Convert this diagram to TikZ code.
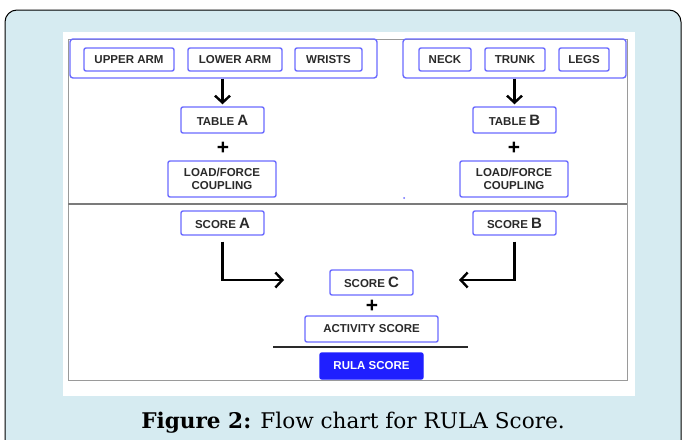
\documentclass[tikz,border=0pt]{standalone}
\usepackage{fontspec}
\setmainfont{DejaVu Serif}
\setsansfont{Liberation Sans}
\usepackage{tikz}
\usetikzlibrary{arrows.meta, positioning, calc}
\definecolor{rulabg}{HTML}{D6EBF1}
\definecolor{rulablue}{HTML}{6B6BFF}
\definecolor{rulafill}{HTML}{1F1FFF}
\definecolor{rulatext}{HTML}{2A2A2A}
\definecolor{rulagray}{HTML}{9A9A9A}

\begin{document}
\begin{tikzpicture}[x=1pt, y=-1pt,
  part/.style={rectangle, rounded corners=2pt, draw=rulablue, line width=1.4pt,
               fill=white, inner sep=0pt, minimum height=23pt,
               font=\sffamily\bfseries\fontsize{11.5}{12.5}\selectfont, text=rulatext},
  grp/.style={rectangle, rounded corners=3pt, draw=rulablue, line width=1.4pt,
              inner sep=0pt, minimum height=39pt},
  plus/.style={font=\sffamily\bfseries\fontsize{21}{21}\selectfont, inner sep=0pt},
  arr/.style={-{Straight Barb[length=7pt, width=15pt, line width=2.4pt]}, line width=2.4pt}]
  \useasboundingbox (0,0) rectangle (684,439);
  % background and white panel
  \draw[fill=rulabg, line width=1pt, rounded corners=12pt] (5,10) rectangle (681,470);
  \fill[white] (63,32) rectangle (635,396);
  \draw[rulagray, line width=1pt] (68,39) rectangle (627,380);
  \draw[rulagray!80!black, line width=1.4pt] (68,204) -- (627,204);
  % body part groups
  \node[grp, minimum width=307pt] (grpA) at (223.5,58.5) {};
  \node[part, minimum width=90pt] (upper) at (129,59.5) {UPPER ARM};
  \node[part, minimum width=94pt] (lower) at (235,59.5) {LOWER ARM};
  \node[part, minimum width=67pt] (wrists) at (328.5,59.5) {WRISTS};
  \node[grp, minimum width=223pt] (grpB) at (514.5,58.5) {};
  \node[part, minimum width=52pt] (neck) at (445,59.5) {NECK};
  \node[part, minimum width=60pt] (trunk) at (515,59.5) {TRUNK};
  \node[part, minimum width=50pt] (legs) at (584,59.5) {LEGS};
  % tables
  \node[part, minimum width=83pt, minimum height=26pt] (tableA) at (222.5,120) {TABLE {\fontsize{15}{15}\selectfont A}};
  \node[part, minimum width=83pt, minimum height=26pt] (tableB) at (514.5,120) {TABLE {\fontsize{15}{15}\selectfont B}};
  \node[plus] (plusA) at (223,148) {+};
  \node[plus] (plusB) at (514,148) {+};
  \node[part, minimum width=108pt, minimum height=36pt, align=center] (loadA) at (222,179) {LOAD/FORCE\\COUPLING};
  \node[part, minimum width=108pt, minimum height=36pt, align=center] (loadB) at (514,179) {LOAD/FORCE\\COUPLING};
  \fill[rulablue] (404,198) circle (1pt);
  % scores
  \node[part, minimum width=83pt, minimum height=24pt] (scoreA) at (222.5,223) {SCORE {\fontsize{15}{15}\selectfont A}};
  \node[part, minimum width=83pt, minimum height=24pt] (scoreB) at (514.5,223) {SCORE {\fontsize{15}{15}\selectfont B}};
  \node[part, minimum width=83pt, minimum height=25pt] (scoreC) at (371.5,282.5) {SCORE {\fontsize{15}{15}\selectfont C}};
  \node[plus] (plusC) at (372,306) {+};
  \node[part, minimum width=133pt, minimum height=26pt] (act) at (371.5,329) {ACTIVITY SCORE};
  \node[part, draw=rulafill, fill=rulafill, text=white, minimum width=103pt, minimum height=26pt] (rula) at (371.5,366) {RULA SCORE};
  \coordinate (inA) at (284,280);
  \coordinate (inB) at (459,280);
  \coordinate (ruleL) at (273,347);
  \coordinate (ruleR) at (468,347);
  % connectors
  \draw[arr, shorten >=2pt] (grpA.south -| tableA) -- (tableA.north);
  \draw[arr, shorten >=2pt] (grpB.south -| tableB) -- (tableB.north);
  \draw[arr, shorten <=6pt] (scoreA.south) |- (inA);
  \draw[arr, shorten <=6pt] (scoreB.south) |- (inB);
  \draw[rulatext, line width=1.4pt] (ruleL) -- (ruleR);
  % caption
  \node[anchor=base, font=\fontsize{21.6}{24}\selectfont] (caption) at (353,428) {\textbf{Figure 2:} Flow chart for RULA Score.};
\end{tikzpicture}
\end{document}
